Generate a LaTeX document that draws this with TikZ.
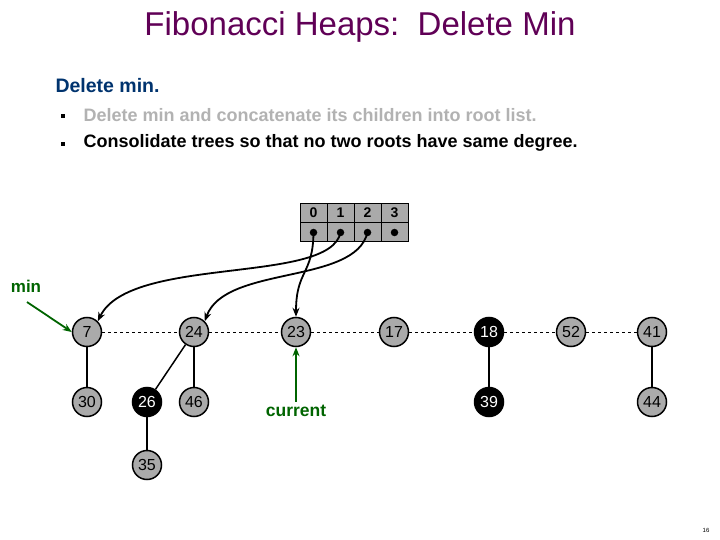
\documentclass[tikz,border=0pt]{standalone}
\usepackage{fontspec}
\setmainfont{Liberation Sans}
\usetikzlibrary{arrows.meta}
\definecolor{titlepurple}{RGB}{96,0,86}
\definecolor{headblue}{RGB}{0,51,110}
\definecolor{nodegray}{RGB}{170,170,170}
\definecolor{lightgray}{RGB}{178,178,178}
\definecolor{mygreen}{RGB}{0,100,0}
\begin{document}
\begin{tikzpicture}[x=1pt,y=-1pt,
  heapnode/.style={circle,draw=black,line width=1.5pt,fill=nodegray,minimum size=29pt,inner sep=0pt,font=\fontsize{16}{16}\selectfont},
  marked/.style={heapnode,fill=black,text=white},
  cell/.style={draw=black,line width=0.8pt,fill=nodegray,minimum width=27pt,minimum height=19pt,inner sep=0pt,font=\bfseries\fontsize{14}{14}\selectfont},
  tree/.style={line width=1.5pt},
  rootlink/.style={dashed,line width=1pt},
  ptr/.style={line width=1.8pt,-{Stealth[length=9pt,width=7pt]}},
  greenptr/.style={mygreen,line width=1.8pt,-{Stealth[length=9pt,width=7pt]}},
  dot/.style={circle,fill=black,minimum size=7.5pt,inner sep=0pt},
  bullet/.style={fill=black,minimum size=3.5pt,inner sep=0pt}]
\useasboundingbox (0,0) rectangle (720,540);
% title and text
\node (title) at (360,27) {\fontsize{33}{33}\selectfont\color{titlepurple}Fibonacci Heaps:\ \ Delete Min};
\node[anchor=west,text=headblue,font=\bfseries\fontsize{19.5}{19.5}\selectfont] (head) at (52,86) {Delete min.};
\node[bullet] (b1) at (63,116) {};
\node[bullet] (b2) at (63,144) {};
\node[anchor=west,text=lightgray,font=\bfseries\fontsize{18}{18}\selectfont] (t1) at (80,115) {Delete min and concatenate its children into root list.};
\node[anchor=west,font=\bfseries\fontsize{18}{18}\selectfont] (t2) at (80,143) {Consolidate trees so that no two roots have same degree.};
% array
\foreach \i/\x in {0/313.5,1/340.5,2/367.5,3/394.5}{
  \node[cell] (c\i) at (\x,213) {\i};
  \node[cell] (d\i) at (\x,232) {};
  \node[dot] (p\i) at (\x,232.5) {};
}
% nodes
\node[heapnode] (n7) at (87,332) {7};
\node[heapnode] (n24) at (194,332) {24};
\node[heapnode] (n23) at (296,332) {23};
\node[heapnode] (n17) at (394,332) {17};
\node[marked] (n18) at (489,332) {18};
\node[heapnode] (n52) at (571,332) {52};
\node[heapnode] (n41) at (652,332) {41};
\node[heapnode] (n30) at (87,402) {30};
\node[marked] (n26) at (147,402) {26};
\node[heapnode] (n46) at (194,402) {46};
\node[marked] (n39) at (489,402) {39};
\node[heapnode] (n44) at (652,402) {44};
\node[heapnode] (n35) at (147,465) {35};
% root list
\draw[rootlink] (n7) -- (n24);
\draw[rootlink] (n24) -- (n23);
\draw[rootlink] (n23) -- (n17);
\draw[rootlink] (n17) -- (n18);
\draw[rootlink] (n18) -- (n52);
\draw[rootlink] (n52) -- (n41);
% tree edges
\draw[tree] (n7) -- (n30);
\draw[tree] (n24) -- (n26);
\draw[tree] (n24) -- (n46);
\draw[tree] (n26) -- (n35);
\draw[tree] (n18) -- (n39);
\draw[tree] (n41) -- (n44);
% pointers from array
\draw[ptr] (p0.center) .. controls (313,275) and (296,270) .. (n23.north);
\draw[ptr] (p1.center) .. controls (330,285) and (130,255) .. (n7.north east);
\draw[ptr] (p2.center) .. controls (355,285) and (225,265) .. (n24.north east);
% min and current
\node[text=mygreen,font=\bfseries\fontsize{17}{17}\selectfont] (minlbl) at (26,286) {min};
\coordinate (mintail) at (27,302);
\draw[greenptr] (mintail) -- (n7.west);
\node[text=mygreen,font=\bfseries\fontsize{17.5}{17.5}\selectfont] (cur) at (296,411) {current};
\draw[greenptr] (cur.north) -- (n23.south);
% page number
\node[font=\fontsize{6}{6}\selectfont] (pg) at (706,530) {16};
\end{tikzpicture}
\end{document}
